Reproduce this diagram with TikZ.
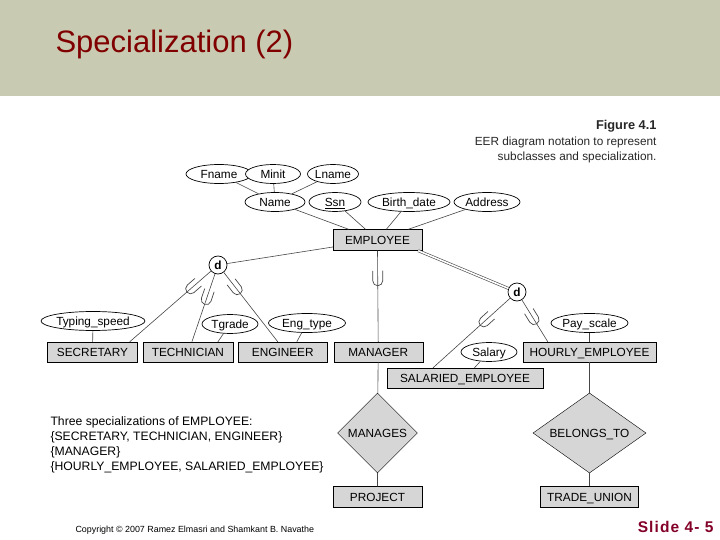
\documentclass[tikz,border=0pt]{standalone}
\usepackage{fontspec}
\setmainfont{Liberation Sans}
\usepackage{tikz}
\usetikzlibrary{shapes.geometric, arrows.meta, positioning, calc}

\definecolor{barcol}{RGB}{200,203,178}
\definecolor{titlered}{RGB}{128,0,0}
\definecolor{slidered}{RGB}{130,0,40}
\definecolor{boxgray}{RGB}{214,214,214}
\definecolor{linegray}{RGB}{70,70,70}
\newcommand{\lblfont}{\fontsize{11.8}{13}\selectfont}

\tikzset{
  subset/.pic={\draw[linegray, line width=0.7pt] (-10,-5) -- (0,-5) arc[start angle=-90, end angle=90, radius=5] -- (-10,5);}
}

\begin{document}
\begin{tikzpicture}[
  x=1pt, y=-1pt,
  ent/.style={rectangle, draw, fill=boxgray, minimum height=20pt, inner sep=0pt, text height=9pt, text depth=0.6pt, font=\lblfont},
  attr/.style={ellipse, draw, line width=0.7pt, fill=white, minimum height=19pt, inner sep=0pt, text height=9pt, text depth=0.3pt, font=\lblfont},
  rel/.style={diamond, draw, fill=boxgray, minimum width=80pt, minimum height=80pt, inner sep=0pt, text height=9pt, text depth=0.6pt, font=\lblfont},
  dnode/.style={circle, draw, line width=0.7pt, fill=white, minimum size=18pt, inner sep=0pt, font=\bfseries\lblfont},
  conn/.style={draw=linegray, line width=0.6pt}
]
  \useasboundingbox (0,0) rectangle (720,540);
  \fill[barcol] (0,0) rectangle (720,96);
  \node[anchor=west, text=titlered, font=\fontsize{31}{36}\selectfont] (title) at (52,44) {Specialization (2)};

  \node[anchor=north east, align=right, font=\fontsize{11.8}{15.5}\selectfont, text=black!85] (caption) at (660,117)
    {{\fontsize{12.8}{15.5}\selectfont\bfseries Figure 4.1}\\EER diagram notation to represent\\subclasses and specialization.};

  \node[attr, minimum width=66pt] (fname) at (219,174) {Fname};
  \node[attr, minimum width=55pt] (minit) at (273,174) {Minit};
  \node[attr, minimum width=50pt] (lname) at (333,174) {Lname};
  \node[attr, minimum width=60pt] (name) at (275,202) {Name};
  \node[attr, minimum width=52pt] (ssn) at (335,202) {\underline{Ssn}};
  \node[attr, minimum width=82pt] (bdate) at (409,202) {Birth\_date};
  \node[attr, minimum width=66pt] (addr) at (487,202) {Address};

  \node[ent, minimum width=89pt, minimum height=21pt] (emp) at (377.5,240) {EMPLOYEE};

  \node[dnode] (d1) at (218,265) {d};
  \node[dnode] (d2) at (517,292) {d};

  \node[ent, minimum width=90pt] (sec) at (92.5,352) {SECRETARY};
  \node[ent, minimum width=90pt, right=5pt of sec] (tech) {TECHNICIAN};
  \node[ent, minimum width=89pt, right=5pt of tech] (eng) {ENGINEER};
  \node[ent, minimum width=89pt, right=6pt of eng] (mgr) {MANAGER};
  \node[ent, minimum width=133pt] (hourly) at (589.5,352) {HOURLY\_EMPLOYEE};
  \node[ent, minimum width=156pt] (sal) at (465,378) {SALARIED\_EMPLOYEE};

  \node[attr, minimum width=93pt] (typ) at (93,321) {Typing\_speed};
  \node[attr, minimum width=56pt] (tgrade) at (230,324) {Tgrade};
  \node[attr, minimum width=77pt] (engtype) at (307,323) {Eng\_type};
  \node[attr, minimum width=56pt] (salary) at (489,352) {Salary};
  \node[attr, minimum width=73pt] (pay) at (589.5,323) {Pay\_scale};

  \node[rel] (mngs) at (377.5,433) {MANAGES};
  \node[rel, minimum width=113pt, aspect=1.41] (belongs) at (589.5,433) {BELONGS\_TO};
  \node[ent, minimum width=89pt, minimum height=21pt] (proj) at (377.5,497) {PROJECT};
  \node[ent, minimum width=98pt, minimum height=21pt] (trade) at (589.5,497) {TRADE\_UNION};

  \path[conn] (name) -- (fname) (name) -- (minit) (name) -- (lname);
  \path[conn] (emp) -- (name) (emp) -- (ssn) (emp) -- (bdate) (emp) -- (addr);
  \path[conn] (emp) -- (d1);
  \draw[linegray, double, double distance=1.6pt, line width=0.6pt] ([xshift=-4pt]emp.south east) -- (d2);
  \path[conn] (emp.south) -- (mgr.north) pic[pos=.33, sloped, allow upside down]{subset};
  \path[conn] (d1) -- ([xshift=-8pt]sec.north east) pic[pos=.25, sloped, allow upside down]{subset};
  \path[conn] (d1) -- ([xshift=4pt]tech.north) pic[pos=.38, sloped, allow upside down]{subset};
  \path[conn] (d1) -- ([xshift=-5pt]eng.north) pic[pos=.25, sloped, allow upside down]{subset};
  \path[conn] (d2) -- ([xshift=-32pt]sal.north) pic[pos=.34, sloped, allow upside down]{subset};
  \path[conn] (d2) -- ([xshift=25pt]hourly.north west) pic[pos=.47, sloped, allow upside down]{subset};
  \path[conn] (typ) -- (sec);
  \path[conn] (tgrade) -- ([xshift=30pt]tech.north);
  \path[conn] (engtype) -- ([xshift=14pt]eng.north);
  \path[conn] (salary) -- (sal);
  \path[conn] (pay) -- (hourly);
  \path[conn] (mgr) -- (mngs) -- (proj);
  \path[conn] (hourly) -- (belongs) -- (trade);

  \node[anchor=north west, align=left, font=\fontsize{12.2}{15}\selectfont] (note) at (47,413)
    {Three specializations of EMPLOYEE:\\\{SECRETARY, TECHNICIAN, ENGINEER\}\\\{MANAGER\}\\\{HOURLY\_EMPLOYEE, SALARIED\_EMPLOYEE\}};

  \node[anchor=west, font=\fontsize{8.9}{10}\selectfont] (copy) at (72,530) {Copyright © 2007 Ramez Elmasri and Shamkant B. Navathe};
  \node[anchor=east, text=slidered, font=\bfseries\fontsize{15.5}{17}\selectfont\addfontfeatures{LetterSpace=7}] (slide) at (717,527) {Slide 4- 5};
\end{tikzpicture}
\end{document}
